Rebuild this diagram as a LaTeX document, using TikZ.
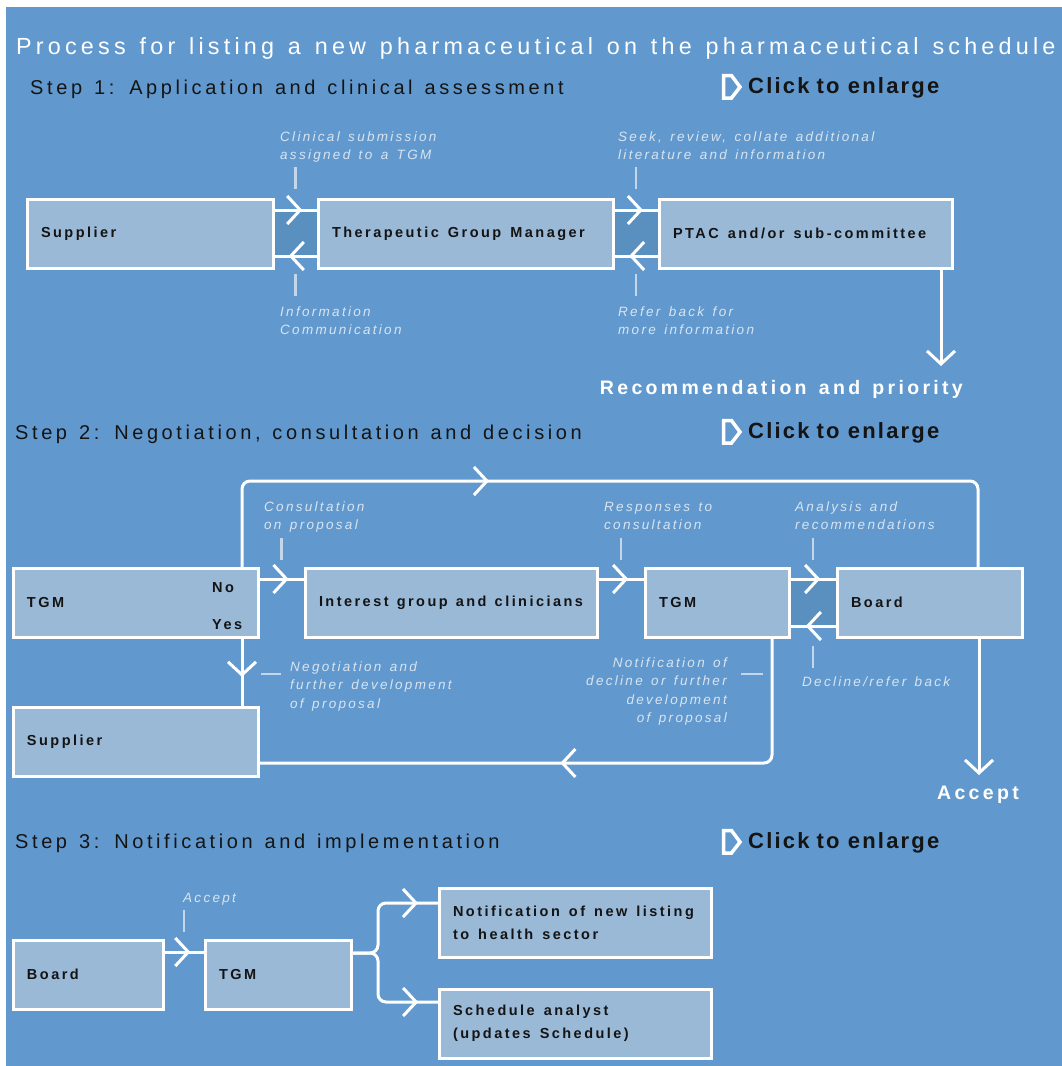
\documentclass[tikz,border=0pt]{standalone}
\usepackage{fontspec}
\newfontfamily\headfont{Liberation Sans}[LetterSpace=18, WordSpace=1.3]
\newfontfamily\trackfont{Liberation Sans}[LetterSpace=17, WordSpace=1.8]
\newfontfamily\boxfont{Liberation Sans}[LetterSpace=17, WordSpace=1.4]
\newfontfamily\clickfont{Liberation Sans}[LetterSpace=10]
\usetikzlibrary{arrows.meta, backgrounds, calc, decorations.markings}

\definecolor{bgblue}{HTML}{6199CE}
\definecolor{boxfill}{HTML}{99B9D7}
\definecolor{gapfill}{HTML}{5A90C0}
\definecolor{boxtext}{HTML}{141414}
\definecolor{notetext}{HTML}{D8E4F1}
\definecolor{tickcol}{HTML}{C3D6EA}

\begin{document}
\begin{tikzpicture}
		[
			x=1pt, y=-1pt,
			>={Straight Barb[length=13pt, width=28pt, line width=3pt]},
			box/.style={draw=white, line width=3pt, fill=boxfill, anchor=north west,
				inner xsep=14pt, inner ysep=0pt, outer sep=0pt, minimum height=69pt, align=left,
				text=boxtext, font=\boxfont\bfseries\fontsize{14.5}{23}\selectfont,
				execute at begin node={\spaceskip=0pt\relax}},
			boxlab/.style={inner sep=0pt, anchor=base west, text=boxtext,
				font=\boxfont\bfseries\fontsize{14.5}{23}\selectfont},
			link/.style={draw=white, line width=3pt, rounded corners=8pt},
			midarrow/.style={postaction={decorate, decoration={markings,
				mark=at position #1 with {\arrow{>}}}}},
			note/.style={inner sep=0pt, anchor=base west, align=left, text=notetext,
				font=\trackfont\itshape\fontsize{13.5}{18.5}\selectfont},
			tick/.style={draw=tickcol, line width=2.5pt},
			heading/.style={inner sep=0pt, anchor=base west, text=boxtext,
				font=\headfont\fontsize{20}{24}\selectfont},
			big/.style={inner sep=0pt, anchor=base, text=white,
				font=\trackfont\bfseries\fontsize{19.5}{23}\selectfont},
			click/.style={inner sep=0pt, anchor=base west, text=boxtext,
				font=\clickfont\bfseries\fontsize{22}{26}\selectfont},
			icon/.style={draw=white, line width=3.5pt, miter limit=4},
		]

		\useasboundingbox (0,0) rectangle (1062,1066);
		\begin{scope}[on background layer]
			\fill[white] (0,0) rectangle (1062,1066);
			\fill[bgblue] (6,7) rectangle (1062,1066);
		\end{scope}

		% Headings
		\node[heading, text=white, font=\headfont\fontsize{23.35}{27}\selectfont]
			(title) at (16,54) {Process for listing a new pharmaceutical on the pharmaceutical schedule};
		\foreach \name/\x/\y/\txt in
		{
			step1/30/94/{Step 1: Application and clinical assessment},
			step2/15/439/{Step 2: Negotiation, consultation and decision},
			step3/15/848/{Step 3: Notification and implementation}
		}
			\node[heading] (\name) at (\x,\y) {\txt};

		\foreach \n/\y in {1/93, 2/438, 3/848}
		{
			\node[click] (click\n) at (748,\y) {Click\hspace{7pt}to enlarge};
			\draw[icon] (723.5,\y-17.5) -- (731.5,\y-17.5) -- (740,\y-6)
				-- (731.5,\y+5) -- (723.5,\y+5) -- cycle;
		}

		% Boxes
		\foreach \name/\x/\y/\w/\txt in
		{
			sup1/27/199/246/Supplier,
			tgm1/318/199/295/Therapeutic Group Manager,
			ptac/659/199/293/{PTAC and/or sub-committee},
			tgm2a/13/568/245/TGM,
			igc/305/568/292/Interest group and clinicians,
			tgm2b/645/568/144/TGM,
			board2/837/568/185/Board,
			sup2/13/707/245/Supplier,
			brd3/13/940/150/Board,
			tgm3/205/940/146/TGM,
			notif/439/888/272/{Notification of new listing\\to health sector},
			sched/439/989/272/{Schedule analyst\\(updates Schedule)}
		}
		{
			\pgfmathsetmacro\tw{\w-28}
			\node[box, text width=\tw pt] (\name) at (\x,\y) {\txt};
		}
		\node[boxlab] (no) at (212,592) {No};
		\node[boxlab] (yes) at (212,629) {Yes};

		% Darker strips between paired arrows
		\begin{scope}[on background layer]
			\fill[gapfill] ([yshift=-11pt]sup1.north east) rectangle ([yshift=12pt]tgm1.south west);
			\fill[gapfill] ([yshift=-11pt]tgm1.north east) rectangle ([yshift=12pt]ptac.south west);
			\fill[gapfill] ([yshift=-11pt]tgm2b.north east) rectangle ([yshift=11pt]board2.south west);
		\end{scope}

		% Free ends
		\coordinate (rec) at ([xshift=-11pt, yshift=-98pt]ptac.south east);
		\coordinate (acc) at ([xshift=-43pt, yshift=-138pt]board2.south east);
		\coordinate (looptop) at (0,481);
		\coordinate (fork) at (378,953);

		% Edges
		\foreach \u/\v/\s in
		{
			sup1/tgm1/-11, tgm1/ptac/-11, tgm2a/igc/-11, igc/tgm2b/-11,
			tgm2b/board2/-11, brd3/tgm3/-12
		}
			\draw[link, midarrow=0.65] ([yshift=\s pt]\u.north east) -- ([yshift=\s pt]\v.north west);
		\foreach \u/\v/\s in {tgm1/sup1/12, ptac/tgm1/12, board2/tgm2b/11}
			\draw[link, midarrow=0.65] ([yshift=\s pt]\u.south west) -- ([yshift=\s pt]\v.south east);

		\draw[link, ->] ([xshift=-11pt]ptac.south east) -- (rec);
		\draw[link, midarrow=0.366] ([xshift=-16pt]tgm2a.north east)
			-- ([xshift=-16pt]tgm2a.north east |- looptop) -| ([xshift=-44pt]board2.north east);
		\draw[link, midarrow=0.57] ([xshift=-16pt]tgm2a.south east) -- ([xshift=-16pt]sup2.north east);
		\draw[link, midarrow=0.525] ([xshift=-17pt]tgm2b.south east) |- ([yshift=13pt]sup2.south east);
		\draw[link, ->] ([xshift=-43pt]board2.south east) -- (acc);
		\draw[link, midarrow=0.84] ([yshift=-13pt]tgm3.north east) -- (fork) |- ([yshift=-15pt]notif.north west);
		\draw[link, midarrow=0.84] ([yshift=-13pt]tgm3.north east) -- (fork) |- ([yshift=-13pt]sched.north west);

		\node[big, anchor=base east] (recommend) at (963,394) {Recommendation and priority};
		\node[big] (accept) at (978,799) {Accept};

		% Notes
		\foreach \name/\x/\y/\txt in
		{
			n1/280/159.5/{Clinical submission\\assigned to a TGM},
			n2/280/334.5/{Information\\Communication},
			n3/618/159.5/{Seek, review, collate additional\\literature and information},
			n4/618/334.5/{Refer back for\\more information},
			n5/264/529.5/{Consultation\\on proposal},
			n6/604/529.5/{Responses to\\consultation},
			n7/795/529.5/{Analysis and\\recommendations},
			n8/802/686/{Decline/refer back},
			n9/290/708/{Negotiation and\\further development\\of proposal},
			n11/183/902/{Accept}
		}
			\node[note] (\name) at (\x,\y) {\txt};
		\node[note, align=right, anchor=base east] (n10) at (727,722.5)
			{Notification of\\decline or further\\development\\of proposal};

		% Pointer ticks
		\coordinate (g1) at ($(sup1.north east)!.5!(tgm1.north west)$);
		\coordinate (g2) at ($(tgm1.north east)!.5!(ptac.north west)$);
		\coordinate (g3) at ($(tgm2a.north east)!.5!(igc.north west)$);
		\coordinate (g4) at ($(igc.north east)!.5!(tgm2b.north west)$);
		\coordinate (g5) at ($(tgm2b.north east)!.5!(board2.north west)$);
		\coordinate (g6) at ($(brd3.north east)!.5!(tgm3.north west)$);
		\foreach \g in {g1, g2}
		{
			\draw[tick] (\g) ++(0,-32) -- ++(0,22);
			\draw[tick] (\g) ++(0,75) -- ++(0,22);
		}
		\foreach \g in {g3, g4, g5, g6}
			\draw[tick] (\g) ++(0,-30) -- ++(0,22);
		\draw[tick] (g5) ++(0,78) -- ++(0,22);
		\draw[tick] ([xshift=3pt]tgm2a.south east) ++(0,37) -- ++(20,0);
		\draw[tick] ([xshift=-48pt]tgm2b.south east) ++(0,37) -- ++(22,0);

\end{tikzpicture}
\end{document}
